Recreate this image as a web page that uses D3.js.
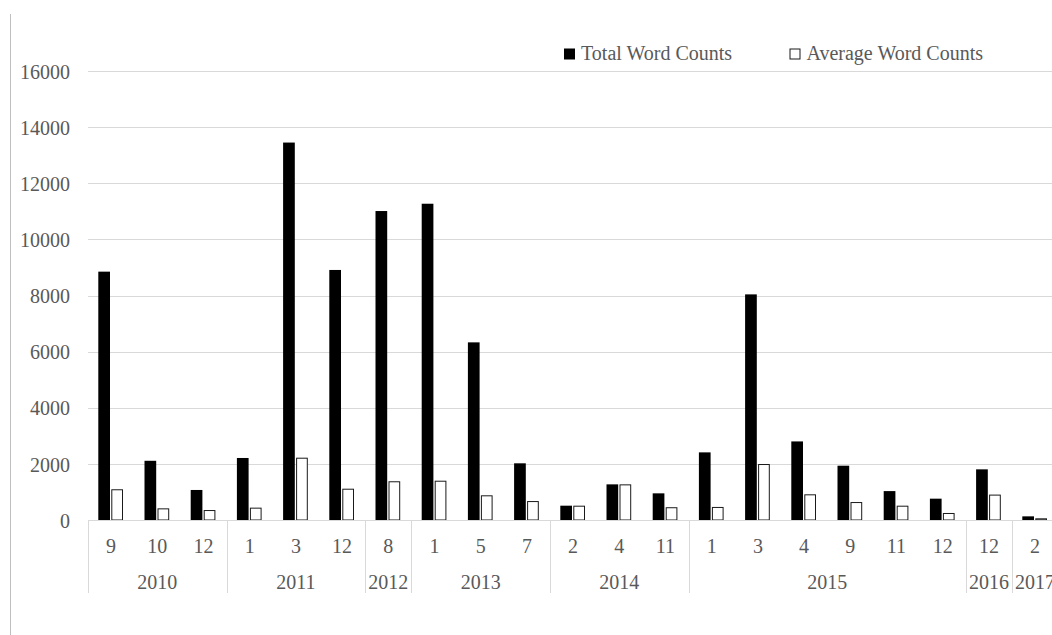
<!DOCTYPE html>
<html>
<head>
<meta charset="utf-8">
<script src="https://cdn.jsdelivr.net/npm/d3@7"></script>
<style>
  html, body { margin: 0; padding: 0; background: #fff; overflow: hidden; }
  svg { display: block; }
  svg text { font-family: 'Liberation Serif', 'Times New Roman', 'DejaVu Serif', serif !important; fill: #595959; }
</style>
</head>
<body>
<svg id="chart" width="1052" height="635"></svg>
<script>
// Publication dates (year / month) and word counts per publication
const years  = ["2010","2010","2010","2011","2011","2011","2012","2013","2013","2013",
                "2014","2014","2014","2015","2015","2015","2015","2015","2015","2016","2017"];
const months = ["9","10","12","1","3","12","8","1","5","7",
                "2","4","11","1","3","4","9","11","12","12","2"];
const totalWords   = [8850, 2110, 1070, 2210, 13450, 8910, 11010, 11270, 6330, 2020,
                      510, 1270, 950, 2410, 8040, 2800, 1935, 1030, 760, 1805, 130];
const averageWords = [1095, 415, 355, 440, 2220, 1115, 1380, 1400, 880, 675,
                      510, 1270, 455, 465, 1995, 915, 640, 510, 250, 905, 60];
const seriesNames = ["Total Word Counts", "Average Word Counts"];
const yTicks = [0, 2000, 4000, 6000, 8000, 10000, 12000, 14000, 16000];

(function () {
const FONT = "'Liberation Serif', 'Times New Roman', 'DejaVu Serif', serif";
const svg = d3.select("#chart");
const W = 1052, H = 635;
const plotLeft = 88, catW = 46.2;
const plotRight = plotLeft + catW * years.length;
const plotTop = 71, plotBottom = 520;

const idx = d3.range(years.length);
const x0 = d3.scaleBand().domain(idx).range([plotLeft, plotRight]).paddingInner(0).paddingOuter(0);
const x1 = d3.scaleBand().domain(seriesNames).range([10.3, 35]).paddingInner(0.1);
const y = d3.scaleLinear().domain([0, 16000]).range([plotBottom, plotTop]);

// outer frame edge on the left
svg.append("line")
  .attr("x1", 10.5).attr("x2", 10.5).attr("y1", 14).attr("y2", H)
  .attr("stroke", "#bfbfbf").attr("stroke-width", 1);

// horizontal gridlines + value labels
const yAxis = d3.axisLeft(y).tickValues(yTicks).tickSize(-(W - plotLeft)).tickPadding(18)
  .tickFormat(d3.format("d"));
const gy = svg.append("g").attr("transform", `translate(${plotLeft},0)`).call(yAxis)
  .attr("font-family", FONT).attr("font-size", 20);
gy.select(".domain").remove();
gy.selectAll(".tick line").attr("stroke", "#d9d9d9").attr("shape-rendering", "crispEdges");
gy.selectAll(".tick text")
  .attr("fill", "#595959")
  .style("font-family", FONT)
  .attr("dy", "0.36em");

// bars
const rows = idx.map(i => ({ i, vals: [totalWords[i], averageWords[i]] }));
const groups = svg.append("g").selectAll("g").data(rows).join("g")
  .attr("transform", d => `translate(${x0(d.i)},0)`);

groups.append("rect")
  .attr("x", x1(seriesNames[0]))
  .attr("width", x1.bandwidth())
  .attr("y", d => y(d.vals[0]))
  .attr("height", d => y(0) - y(d.vals[0]))
  .attr("fill", "#000");

groups.append("rect")
  .attr("x", x1(seriesNames[1]) + 0.5)
  .attr("width", x1.bandwidth() - 1)
  .attr("y", d => y(d.vals[1]) + 0.5)
  .attr("height", d => Math.max(0, y(0) - y(d.vals[1]) - 0.5))
  .attr("fill", "#fff")
  .attr("stroke", "#1a1a1a").attr("stroke-width", 1);

// category axis baseline
svg.append("line")
  .attr("x1", plotLeft).attr("x2", W).attr("y1", plotBottom + 0.5).attr("y2", plotBottom + 0.5)
  .attr("stroke", "#d9d9d9").attr("shape-rendering", "crispEdges");

// month labels
svg.append("g").selectAll("text").data(idx).join("text")
  .attr("x", i => x0(i) + x0.bandwidth() / 2)
  .attr("y", 552.5)
  .attr("text-anchor", "middle")
  .attr("font-size", 20)
  .style("font-family", FONT)
  .text(i => months[i]);

// year groups
const yearGroups = [];
years.forEach((yr, i) => {
  const last = yearGroups[yearGroups.length - 1];
  if (last && last.year === yr) last.end = i;
  else yearGroups.push({ year: yr, start: i, end: i });
});

// year separators
const sepX = [x0(0)].concat(yearGroups.map(g => x0(g.end) + x0.bandwidth()));
svg.append("g").selectAll("line").data(sepX).join("line")
  .attr("x1", d => Math.round(d) + 0.5).attr("x2", d => Math.round(d) + 0.5)
  .attr("y1", plotBottom).attr("y2", 593)
  .attr("stroke", "#d9d9d9");

svg.append("g").selectAll("text").data(yearGroups).join("text")
  .attr("x", g => (x0(g.start) + x0(g.end) + x0.bandwidth()) / 2)
  .attr("y", 588.5)
  .attr("text-anchor", "middle")
  .attr("font-size", 20)
  .style("font-family", FONT)
  .text(g => g.year);

// legend
const legend = svg.append("g");
const legendItems = [
  { name: seriesNames[0], x: 564, fill: "#000", stroke: "none" },
  { name: seriesNames[1], x: 789.5, fill: "#fff", stroke: "#1a1a1a" }
];
legendItems.forEach(it => {
  legend.append("rect")
    .attr("x", it.stroke === "none" ? it.x : it.x + 0.5)
    .attr("y", it.stroke === "none" ? 48.5 : 49)
    .attr("width", it.stroke === "none" ? 11 : 10)
    .attr("height", it.stroke === "none" ? 11 : 10)
    .attr("fill", it.fill).attr("stroke", it.stroke);
  legend.append("text")
    .attr("x", it.x + 17).attr("y", 59.5)
    .attr("font-size", 20)
    .style("font-family", FONT)
    .text(it.name);
});
})();
</script>
</body>
</html>
